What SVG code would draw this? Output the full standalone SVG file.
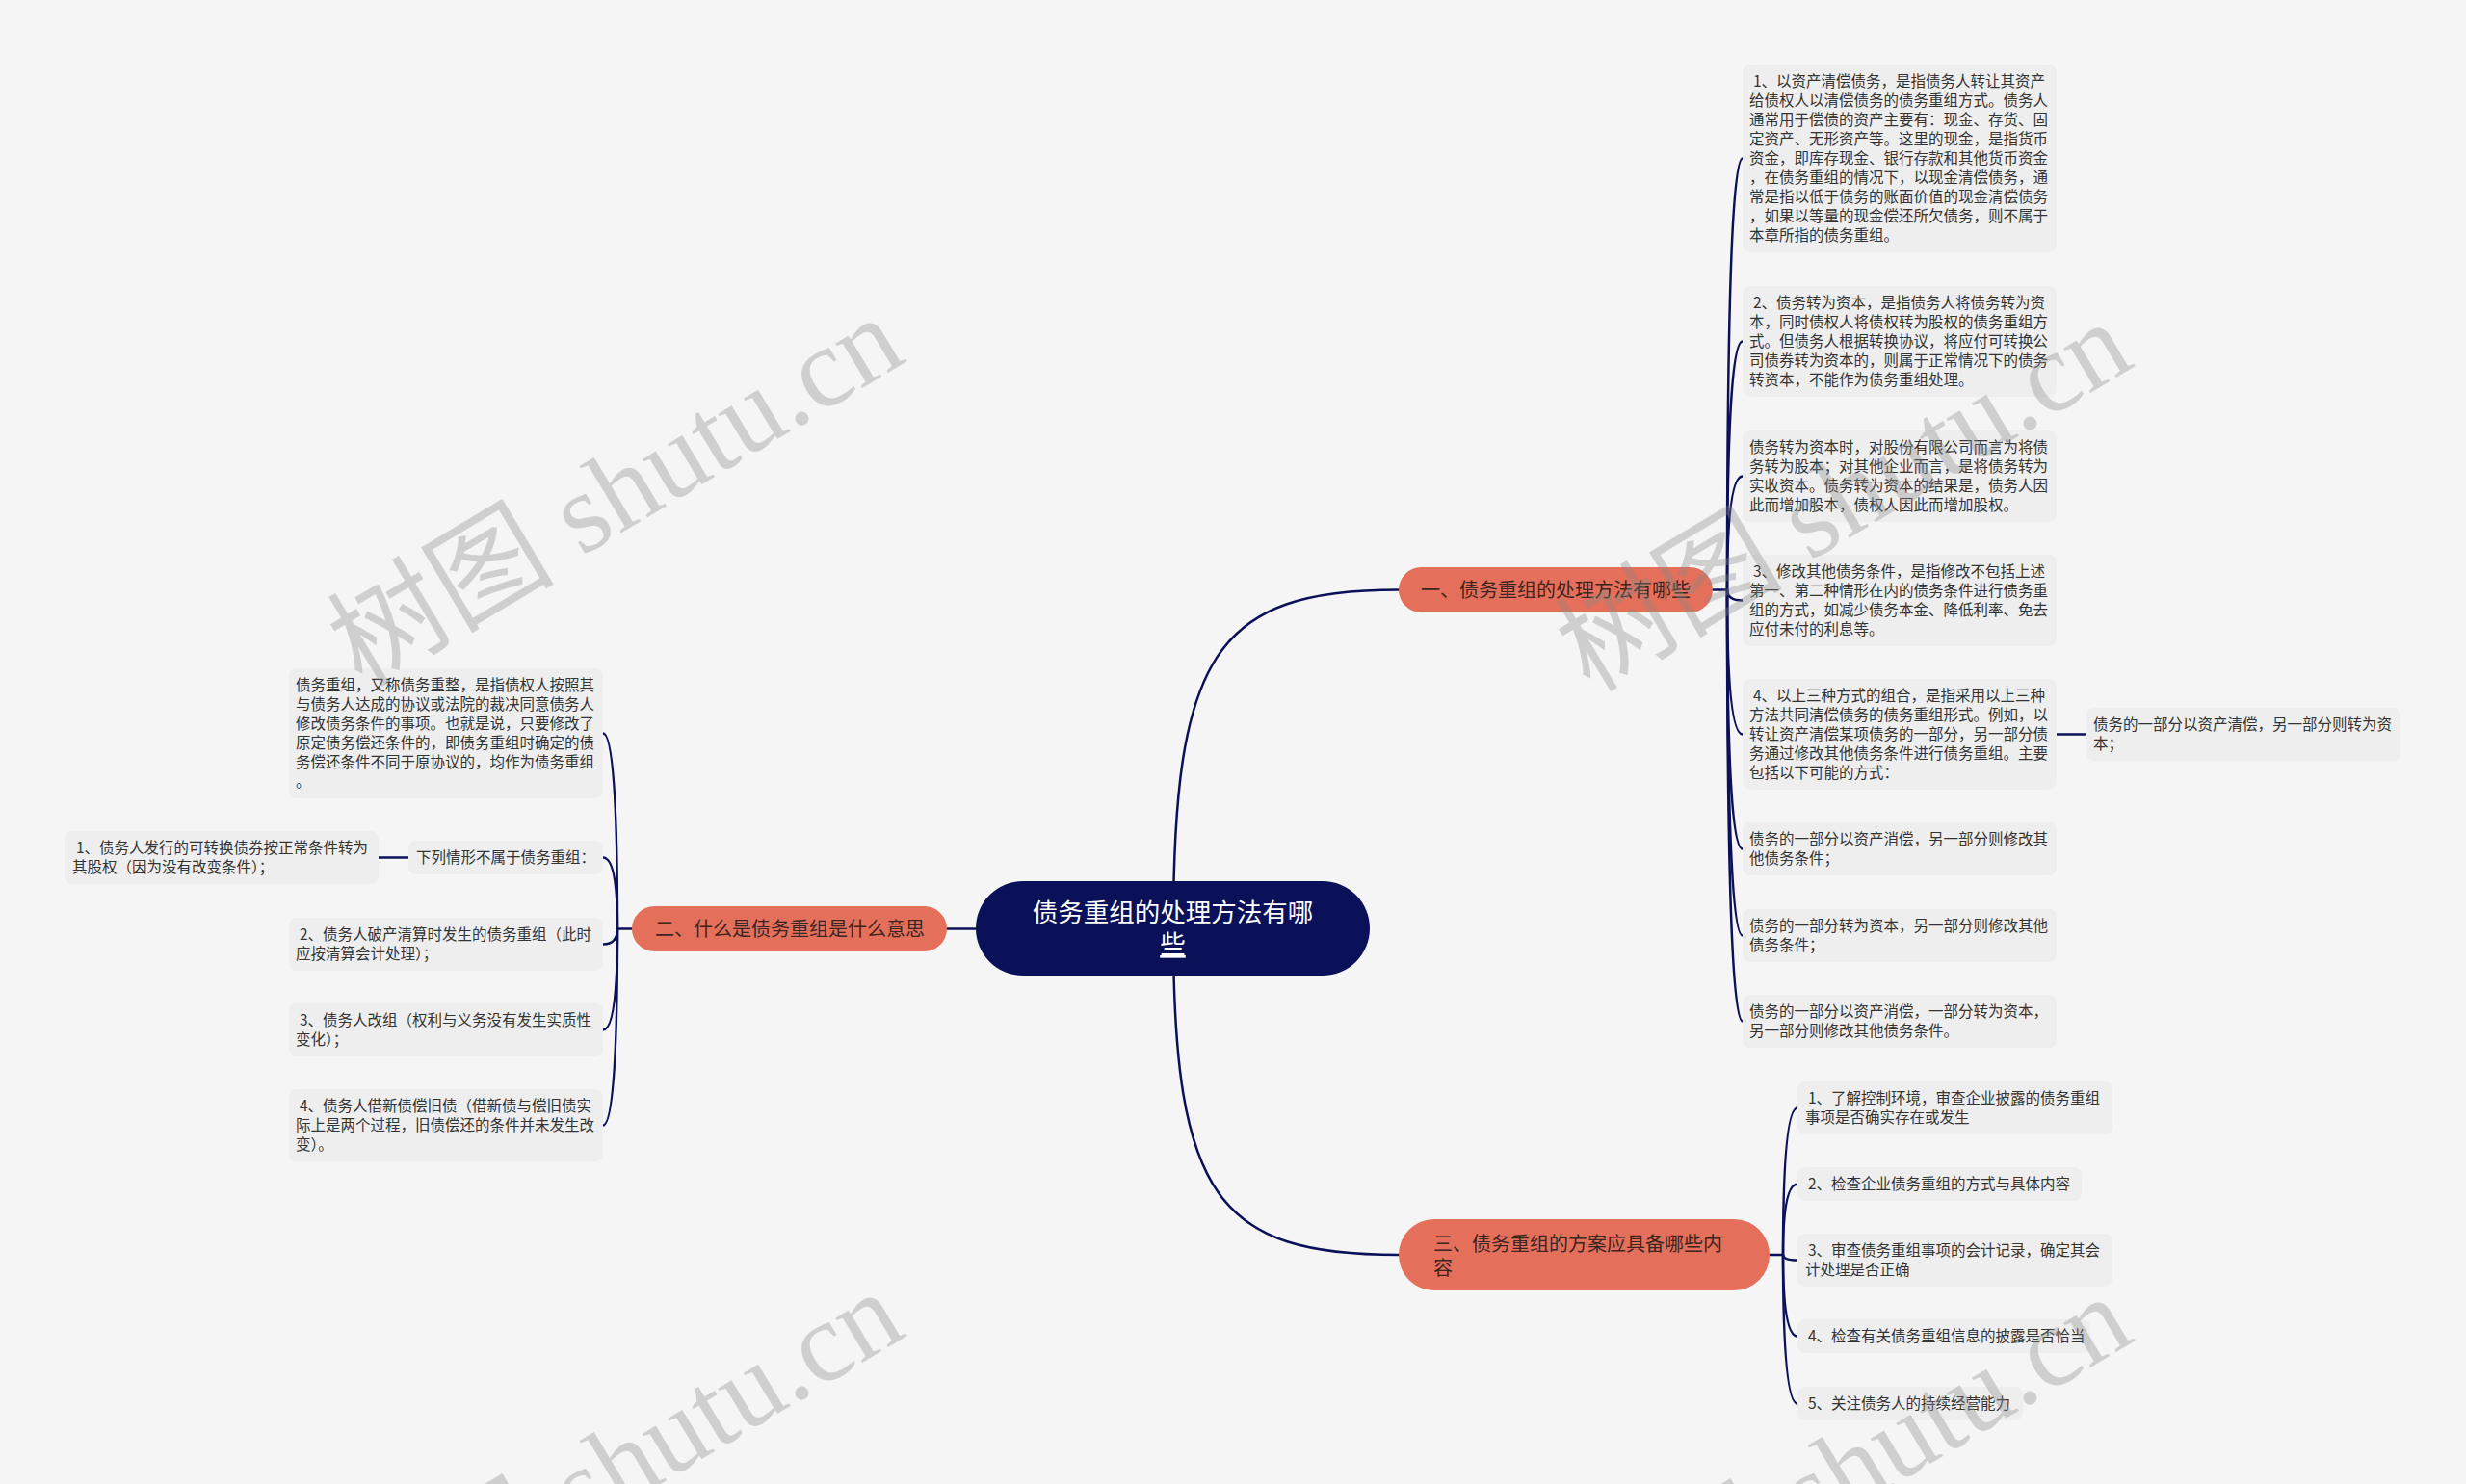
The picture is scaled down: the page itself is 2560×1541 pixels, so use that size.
<svg xmlns="http://www.w3.org/2000/svg" width="2560" height="1541" viewBox="0 0 2560 1541">
<style>
.bg{fill:#f5f5f5}
.box{fill:#eeeeee}
.t{font-family:"Noto Sans CJK SC","Liberation Sans",sans-serif;font-size:15.5px;fill:#333333}
.br{fill:#e46f5a}
.bt{font-family:"Noto Sans CJK SC","Liberation Sans",sans-serif;font-size:20px;fill:#3d2420}
.ct{font-family:"Noto Sans CJK SC","Liberation Sans",sans-serif;font-size:26.5px;fill:#ffffff}
.c{fill:none;stroke:#0b1159;stroke-width:2.5;stroke-linecap:round}
.wm{font-family:"Liberation Serif","Noto Sans CJK SC",serif;font-size:118px;fill:#8a8a8a;fill-opacity:0.35}
</style>
<rect class="bg" x="0" y="0" width="2560" height="1541"/>
<g id="connectors">
<path class="c" d="M1218 965 C1218 680 1262 612.5 1452 612.5"/>
<path class="c" d="M1218 965 C1218 1245 1266 1303 1452 1303"/>
<path class="c" d="M1013 964.5 H983"/>
<path class="c" d="M1778 612.5 H1793"/>
<path class="c" d="M1793 612.5 Q1793 164.5 1809 164.5"/>
<path class="c" d="M1793 612.5 Q1793 354.5 1809 354.5"/>
<path class="c" d="M1793 612.5 Q1793 494.5 1809 494.5"/>
<path class="c" d="M1793 612.5 Q1793 623.5 1809 623.5"/>
<path class="c" d="M1793 612.5 Q1793 762.5 1809 762.5"/>
<path class="c" d="M1793 612.5 Q1793 881.5 1809 881.5"/>
<path class="c" d="M1793 612.5 Q1793 971.5 1809 971.5"/>
<path class="c" d="M1793 612.5 Q1793 1060.5 1809 1060.5"/>
<path class="c" d="M2135 762.5 H2166"/>
<path class="c" d="M656 964.5 H641"/>
<path class="c" d="M641 964.5 Q641 761.5 626 761.5"/>
<path class="c" d="M641 964.5 Q641 890.5 626 890.5"/>
<path class="c" d="M641 964.5 Q641 980.5 626 980.5"/>
<path class="c" d="M641 964.5 Q641 1069.5 626 1069.5"/>
<path class="c" d="M641 964.5 Q641 1168.5 626 1168.5"/>
<path class="c" d="M424 890.5 H393"/>
<path class="c" d="M1837 1303 H1851"/>
<path class="c" d="M1851 1303 Q1851 1150.5 1866 1150.5"/>
<path class="c" d="M1851 1303 Q1851 1229.5 1866 1229.5"/>
<path class="c" d="M1851 1303 Q1851 1308.5 1866 1308.5"/>
<path class="c" d="M1851 1303 Q1851 1387.5 1866 1387.5"/>
<path class="c" d="M1851 1303 Q1851 1457.5 1866 1457.5"/>
</g>
<g id="center">
<rect x="1013" y="915" width="409" height="98" rx="49" fill="#0b1159"/>
<text class="ct" text-anchor="middle"><tspan x="1217.5" y="957">债务重组的处理方法有哪</tspan><tspan x="1217.5" y="990" text-decoration="underline">些</tspan></text>
</g>
<g id="branch1">
<rect class="br" x="1452" y="589" width="326" height="47" rx="23.5"/>
<text class="bt" x="1475" y="620">一、债务重组的处理方法有哪些</text>
</g>
<g id="branch2">
<rect class="br" x="656" y="941" width="327" height="47" rx="23.5"/>
<text class="bt" x="680" y="972">二、什么是债务重组是什么意思</text>
</g>
<g id="branch3">
<rect class="br" x="1452" y="1266" width="385" height="74" rx="37"/>
<text class="bt"><tspan x="1488" y="1299">三、债务重组的方案应具备哪些内</tspan><tspan x="1488" y="1324">容</tspan></text>
</g>
<g id="r1">
<rect class="box" x="1809" y="67" width="326" height="195" rx="8"/>
<text class="t"><tspan x="1820" y="90">1、以资产清偿债务，是指债务人转让其资产</tspan><tspan x="1816" y="110">给债权人以清偿债务的债务重组方式。债务人</tspan><tspan x="1816" y="130">通常用于偿债的资产主要有：现金、存货、固</tspan><tspan x="1816" y="150">定资产、无形资产等。这里的现金，是指货币</tspan><tspan x="1816" y="170">资金，即库存现金、银行存款和其他货币资金</tspan><tspan x="1816" y="190">，在债务重组的情况下，以现金清偿债务，通</tspan><tspan x="1816" y="210">常是指以低于债务的账面价值的现金清偿债务</tspan><tspan x="1816" y="230">，如果以等量的现金偿还所欠债务，则不属于</tspan><tspan x="1816" y="250">本章所指的债务重组。</tspan></text>
</g>
<g id="r2">
<rect class="box" x="1809" y="297" width="326" height="115" rx="8"/>
<text class="t"><tspan x="1820" y="320">2、债务转为资本，是指债务人将债务转为资</tspan><tspan x="1816" y="340">本，同时债权人将债权转为股权的债务重组方</tspan><tspan x="1816" y="360">式。但债务人根据转换协议，将应付可转换公</tspan><tspan x="1816" y="380">司债券转为资本的，则属于正常情况下的债务</tspan><tspan x="1816" y="400">转资本，不能作为债务重组处理。</tspan></text>
</g>
<g id="r3">
<rect class="box" x="1809" y="447" width="326" height="95" rx="8"/>
<text class="t"><tspan x="1816" y="470">债务转为资本时，对股份有限公司而言为将债</tspan><tspan x="1816" y="490">务转为股本；对其他企业而言，是将债务转为</tspan><tspan x="1816" y="510">实收资本。债务转为资本的结果是，债务人因</tspan><tspan x="1816" y="530">此而增加股本，债权人因此而增加股权。</tspan></text>
</g>
<g id="r4">
<rect class="box" x="1809" y="576" width="326" height="95" rx="8"/>
<text class="t"><tspan x="1820" y="599">3、修改其他债务条件，是指修改不包括上述</tspan><tspan x="1816" y="619">第一、第二种情形在内的债务条件进行债务重</tspan><tspan x="1816" y="639">组的方式，如减少债务本金、降低利率、免去</tspan><tspan x="1816" y="659">应付未付的利息等。</tspan></text>
</g>
<g id="r5">
<rect class="box" x="1809" y="705" width="326" height="115" rx="8"/>
<text class="t"><tspan x="1820" y="728">4、以上三种方式的组合，是指采用以上三种</tspan><tspan x="1816" y="748">方法共同清偿债务的债务重组形式。例如，以</tspan><tspan x="1816" y="768">转让资产清偿某项债务的一部分，另一部分债</tspan><tspan x="1816" y="788">务通过修改其他债务条件进行债务重组。主要</tspan><tspan x="1816" y="808">包括以下可能的方式：</tspan></text>
</g>
<g id="r6">
<rect class="box" x="1809" y="854" width="326" height="55" rx="8"/>
<text class="t"><tspan x="1816" y="877">债务的一部分以资产消偿，另一部分则修改其</tspan><tspan x="1816" y="897">他债务条件；</tspan></text>
</g>
<g id="r7">
<rect class="box" x="1809" y="944" width="326" height="55" rx="8"/>
<text class="t"><tspan x="1816" y="967">债务的一部分转为资本，另一部分则修改其他</tspan><tspan x="1816" y="987">债务条件；</tspan></text>
</g>
<g id="r8">
<rect class="box" x="1809" y="1033" width="326" height="55" rx="8"/>
<text class="t"><tspan x="1816" y="1056">债务的一部分以资产消偿，一部分转为资本，</tspan><tspan x="1816" y="1076">另一部分则修改其他债务条件。</tspan></text>
</g>
<g id="r9">
<rect class="box" x="2166" y="735" width="326" height="55" rx="8"/>
<text class="t"><tspan x="2173" y="758">债务的一部分以资产清偿，另一部分则转为资</tspan><tspan x="2173" y="778">本；</tspan></text>
</g>
<g id="s1">
<rect class="box" x="1866" y="1123" width="327" height="55" rx="8"/>
<text class="t"><tspan x="1877" y="1146">1、了解控制环境，审查企业披露的债务重组</tspan><tspan x="1874" y="1166">事项是否确实存在或发生</tspan></text>
</g>
<g id="s2">
<rect class="box" x="1866" y="1212" width="295" height="35" rx="8"/>
<text class="t" x="1877" y="1235">2、检查企业债务重组的方式与具体内容</text>
</g>
<g id="s3">
<rect class="box" x="1866" y="1281" width="327" height="55" rx="8"/>
<text class="t"><tspan x="1877" y="1304">3、审查债务重组事项的会计记录，确定其会</tspan><tspan x="1874" y="1324">计处理是否正确</tspan></text>
</g>
<g id="s4">
<rect class="box" x="1866" y="1370" width="304" height="35" rx="8"/>
<text class="t" x="1877" y="1393">4、检查有关债务重组信息的披露是否恰当</text>
</g>
<g id="s5">
<rect class="box" x="1866" y="1440" width="234" height="35" rx="8"/>
<text class="t" x="1877" y="1463">5、关注债务人的持续经营能力</text>
</g>
<g id="l1">
<rect class="box" x="300" y="694" width="326" height="135" rx="8"/>
<text class="t"><tspan x="307" y="717">债务重组，又称债务重整，是指债权人按照其</tspan><tspan x="307" y="737">与债务人达成的协议或法院的裁决同意债务人</tspan><tspan x="307" y="757">修改债务条件的事项。也就是说，只要修改了</tspan><tspan x="307" y="777">原定债务偿还条件的，即债务重组时确定的债</tspan><tspan x="307" y="797">务偿还条件不同于原协议的，均作为债务重组</tspan><tspan x="307" y="817">。</tspan></text>
</g>
<g id="l2">
<rect class="box" x="424" y="873" width="202" height="35" rx="8"/>
<text class="t" x="432" y="896">下列情形不属于债务重组：</text>
</g>
<g id="l3">
<rect class="box" x="67" y="863" width="326" height="55" rx="8"/>
<text class="t"><tspan x="79" y="886">1、债务人发行的可转换债券按正常条件转为</tspan><tspan x="75" y="906">其股权（因为没有改变条件）；</tspan></text>
</g>
<g id="l4">
<rect class="box" x="300" y="953" width="326" height="55" rx="8"/>
<text class="t"><tspan x="311" y="976">2、债务人破产清算时发生的债务重组（此时</tspan><tspan x="307" y="996">应按清算会计处理）；</tspan></text>
</g>
<g id="l5">
<rect class="box" x="300" y="1042" width="326" height="55" rx="8"/>
<text class="t"><tspan x="311" y="1065">3、债务人改组（权利与义务没有发生实质性</tspan><tspan x="307" y="1085">变化）；</tspan></text>
</g>
<g id="l6">
<rect class="box" x="300" y="1131" width="326" height="75" rx="8"/>
<text class="t"><tspan x="311" y="1154">4、债务人借新债偿旧债（借新债与偿旧债实</tspan><tspan x="307" y="1174">际上是两个过程，旧债偿还的条件并未发生改</tspan><tspan x="307" y="1194">变）。</tspan></text>
</g>
<g id="watermarks">
<text class="wm" text-anchor="middle" transform="translate(640 512) rotate(-31)" y="38">树图 shutu.cn</text>
<text class="wm" text-anchor="middle" transform="translate(1915 517) rotate(-31)" y="38">树图 shutu.cn</text>
<text class="wm" text-anchor="middle" transform="translate(640 1524) rotate(-31)" y="38">树图 shutu.cn</text>
<text class="wm" text-anchor="middle" transform="translate(1915 1529) rotate(-31)" y="38">树图 shutu.cn</text>
</g>
</svg>
